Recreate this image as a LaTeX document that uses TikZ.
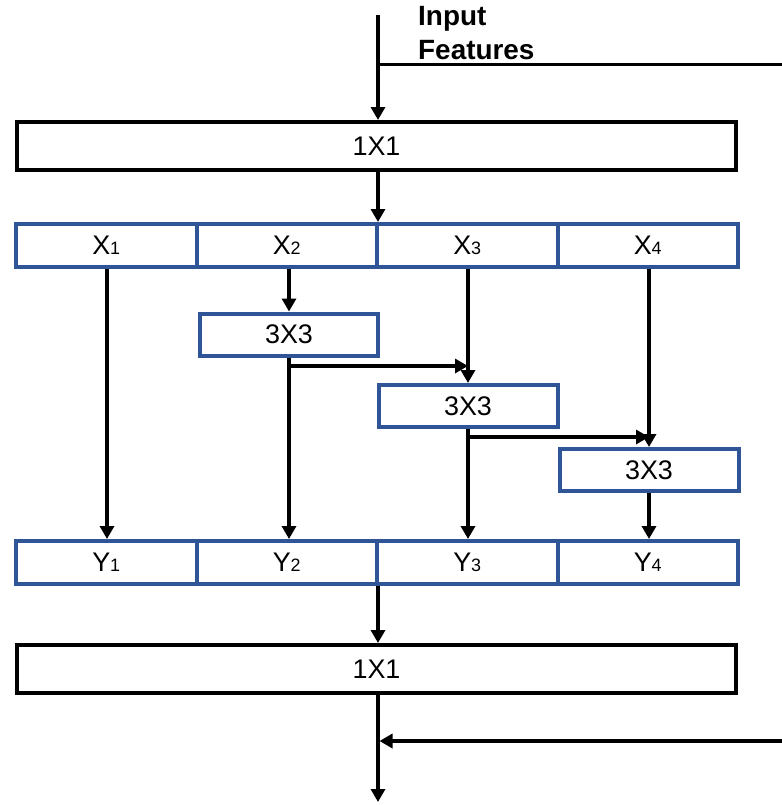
\documentclass[tikz,border=0pt]{standalone}
\usepackage{fontspec}
\setmainfont{Liberation Sans}
\usetikzlibrary{arrows.meta}
\definecolor{cellblue}{HTML}{2F5597}
\newcommand\idx[1]{{\fontsize{18}{18}\selectfont #1}}
\begin{document}
\begin{tikzpicture}[x=1bp,y=-1bp,
  conv/.style={draw=black,line width=4bp,rectangle,inner sep=0pt,
    minimum width=719bp,minimum height=48bp,font=\fontsize{27}{27}\selectfont},
  cell/.style={draw=cellblue,line width=4bp,rectangle,inner sep=0pt,
    minimum width=180.5bp,minimum height=43bp,font=\fontsize{27}{27}\selectfont},
  small/.style={draw=cellblue,line width=4bp,rectangle,inner sep=0pt,
    minimum width=179bp,minimum height=42bp,font=\fontsize{27}{27}\selectfont},
  arr/.style={line width=3.5bp,-{Triangle[length=13bp,width=14bp]}},
  plain/.style={line width=3bp}]
\useasboundingbox (0,0) rectangle (782,805);

% 1x1 reduction
\node[conv] (top) at (376.5,146) {1X1};

% split feature groups
\node[cell] (X1) at (106.25,245.5) {X\idx{1}};
\node[cell] (X2) at (286.75,245.5) {X\idx{2}};
\node[cell] (X3) at (467.25,245.5) {X\idx{3}};
\node[cell] (X4) at (647.75,245.5) {X\idx{4}};

% hierarchical 3x3 convolutions
\node[small,minimum width=178bp] (b1) at (289,334.5) {3X3};
\node[small] (b2) at (468,406) {3X3};
\node[small] (b3) at (649,470) {3X3};

% output groups
\node[cell] (Y1) at (106.25,562.5) {Y\idx{1}};
\node[cell] (Y2) at (286.75,562.5) {Y\idx{2}};
\node[cell] (Y3) at (467.25,562.5) {Y\idx{3}};
\node[cell] (Y4) at (647.75,562.5) {Y\idx{4}};

% 1x1 expansion
\node[conv] (bot) at (376.5,669) {1X1};

% input and identity path
\node[anchor=north west,inner sep=0pt,align=left,
  font=\fontsize{28}{34}\selectfont\bfseries] (lbl) at (418,6) {Input\\Features};
\coordinate (in) at (378,15);
\coordinate (tap) at (378,65);
\coordinate (tapr) at (782,65);
\coordinate (skip) at (782,741);
\coordinate (out) at (378,802);
\coordinate (c1) at (107,0);
\coordinate (j1) at (289,366);
\coordinate (j2) at (468,437);

\draw[arr] (in) -- (in |- top.north);
\draw[plain] (tap) -- (tapr);
\draw[arr] (top.south -| in) -- (X3.north -| in);

\draw[arr] (X1.south -| c1) -- (Y1.north -| c1);
\draw[arr] (X2.south -| b1.north) -- (b1.north);
\draw[arr] (b1.south) -- (b1.south |- Y2.north);
\draw[arr] (j1) -- (j1 -| b2.north);
\draw[arr] (X3.south -| b2.north) -- (b2.north);
\draw[arr] (b2.south) -- (b2.south |- Y3.north);
\draw[arr] (j2) -- (j2 -| b3.north);
\draw[arr] (X4.south -| b3.north) -- (b3.north);
\draw[arr] (b3.south) -- (b3.south |- Y4.north);

\draw[arr] (Y3.south west -| in) -- (bot.north -| in);
\draw[arr] (bot.south -| out) -- (out);
\draw[arr,shorten >=1.5bp] (skip) -- (skip -| out);
\end{tikzpicture}
\end{document}
